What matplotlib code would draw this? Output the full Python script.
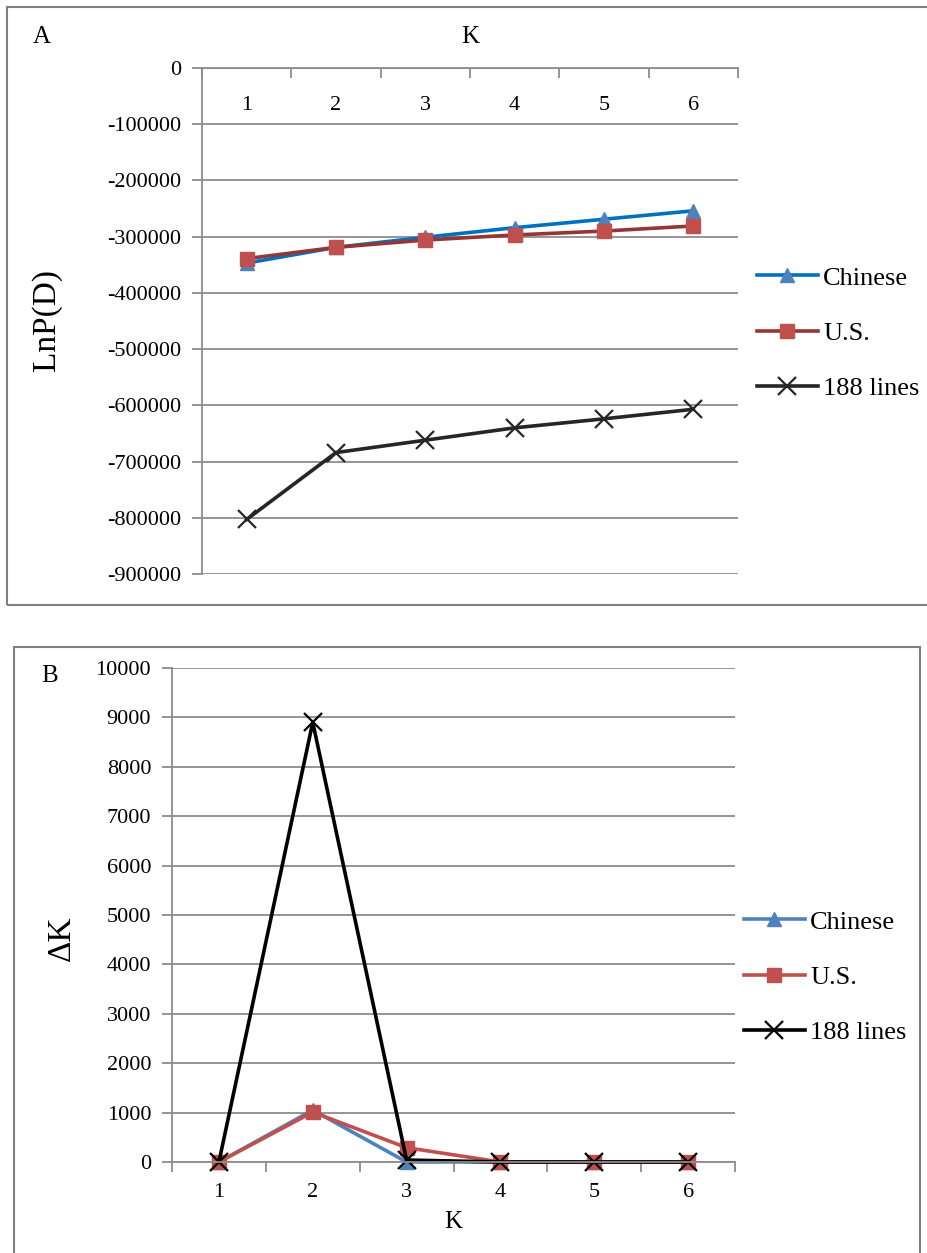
import matplotlib
matplotlib.use("Agg")
import matplotlib.pyplot as plt
from matplotlib.patches import Rectangle
from matplotlib.ticker import FixedLocator

plt.rcParams['font.family'] = ['Liberation Serif', 'DejaVu Serif']

K = [1, 2, 3, 4, 5, 6]
k_labels = ['1', '2', '3', '4', '5', '6']
series_names = ['Chinese', 'U.S.', '188 lines']

lnp_chinese = [-347000, -319000, -301000, -284000, -269000, -254000]
lnp_us = [-339000, -319000, -306000, -297000, -290000, -281000]
lnp_188 = [-803000, -684000, -662000, -640000, -624000, -607000]

dk_chinese = [0, 1050, 0, 0, 0, 0]
dk_us = [0, 1010, 290, 0, 0, 0]
dk_188 = [0, 8900, 40, 0, 0, 0]

W, H = 928, 1253
fig = plt.figure(figsize=(W / 100, H / 100), dpi=100)

GRID = '#8c8c8c'
FS_TICK = 16
FS_LEG = 19
FS_TITLE = 18
FS_YLAB = 24
LW = 2.6

# panel borders
fig.patches.append(Rectangle((7 / W, 1 - 605 / H), (940 - 7) / W, (605 - 7) / H,
                             transform=fig.transFigure, fill=False,
                             edgecolor='#808080', lw=1.5))
fig.patches.append(Rectangle((14 / W, 1 - 1260 / H), (920 - 14) / W, (1260 - 647) / H,
                             transform=fig.transFigure, fill=False,
                             edgecolor='#808080', lw=1.5))

styles = [
    dict(color='#0070C0', marker='^', mfc='#4F81BD', mec='#4F81BD', ms=10),
    dict(color='#943634', marker='s', mfc='#C0504D', mec='#C0504D', ms=10),
    dict(color='#262626', marker='x', mfc='#262626', mec='#262626', ms=13, mew=1.6),
]
stylesB = [
    dict(color='#4F81BD', marker='^', mfc='#4F81BD', mec='#4F81BD', ms=10),
    dict(color='#C0504D', marker='s', mfc='#C0504D', mec='#C0504D', ms=10),
    dict(color='#000000', marker='x', mfc='#000000', mec='#000000', ms=13, mew=1.6),
]

# ---------------- Panel A ----------------
axA = fig.add_axes([202 / W, 1 - 574 / H, (738 - 202) / W, (574 - 68) / H])
for vals, name, st in zip([lnp_chinese, lnp_us, lnp_188], series_names, styles):
    axA.plot(K, vals, lw=LW, label=name, **st)
axA.set_xlim(0.5, 6.5)
axA.set_ylim(-900000, 0)
yticksA = list(range(-900000, 1, 100000))
axA.set_yticks(yticksA)
axA.set_yticklabels([str(v) for v in yticksA])
axA.yaxis.grid(True, color=GRID, lw=1.3)
axA.set_axisbelow(True)
for s in ['right', 'bottom']:
    axA.spines[s].set_visible(False)
for s in ['left', 'top']:
    axA.spines[s].set_color(GRID)
    axA.spines[s].set_linewidth(1.3)
axA.xaxis.tick_top()
axA.set_xticks(K)
axA.set_xticklabels(k_labels)
axA.xaxis.set_minor_locator(FixedLocator([0.5 + i for i in range(7)]))
axA.tick_params(axis='x', which='major', length=0, pad=-34, labelsize=FS_TICK)
axA.tick_params(axis='x', which='minor', direction='in', length=7, color=GRID, width=1.3)
axA.tick_params(axis='y', direction='out', length=7, color=GRID, width=1.3,
                labelsize=FS_TICK, pad=8)
axA.text(0.5, 1 + 31 / 506, 'K', transform=axA.transAxes, ha='center', va='center',
         fontsize=FS_TITLE)
fig.text(42 / W, 1 - 37 / H, 'A', ha='center', va='center', fontsize=FS_TITLE)
fig.text(47 / W, 1 - 320 / H, 'LnP(D)', ha='center', va='center', rotation=90,
         fontsize=FS_YLAB)
axA.legend(loc='center left', bbox_to_anchor=(757 / W, 1 - 333 / H),
           bbox_transform=fig.transFigure, frameon=False, fontsize=FS_LEG,
           handlelength=2.3, handletextpad=0.2, labelspacing=1.2, borderpad=0,
           borderaxespad=0)

# ---------------- Panel B ----------------
axB = fig.add_axes([172 / W, 1 - 1162 / H, (735 - 172) / W, (1162 - 668) / H])
for vals, name, st in zip([dk_chinese, dk_us, dk_188], series_names, stylesB):
    axB.plot(K, vals, lw=LW, label=name, clip_on=False, **st)
axB.set_xlim(0.5, 6.5)
axB.set_ylim(0, 10000)
axB.set_yticks(range(0, 10001, 1000))
axB.yaxis.grid(True, color=GRID, lw=1.3)
axB.set_axisbelow(True)
for s in ['right', 'top']:
    axB.spines[s].set_visible(False)
for s in ['left', 'bottom']:
    axB.spines[s].set_color(GRID)
    axB.spines[s].set_linewidth(1.3)
axB.set_xticks(K)
axB.set_xticklabels(k_labels)
axB.xaxis.set_minor_locator(FixedLocator([0.5 + i for i in range(7)]))
axB.tick_params(axis='x', which='major', length=0, pad=15, labelsize=FS_TICK)
axB.tick_params(axis='x', which='minor', direction='out', length=7, color=GRID, width=1.3)
axB.tick_params(axis='y', direction='out', length=7, color=GRID, width=1.3,
                labelsize=FS_TICK, pad=8)
axB.text(0.5, -60 / 494, 'K', transform=axB.transAxes, ha='center', va='center',
         fontsize=FS_TITLE)
fig.text(50 / W, 1 - 676 / H, 'B', ha='center', va='center', fontsize=FS_TITLE)
fig.text(62 / W, 1 - 938 / H, 'ΔK', ha='center', va='center', rotation=90,
         fontsize=FS_YLAB)
axB.legend(loc='center left', bbox_to_anchor=(744 / W, 1 - 977 / H),
           bbox_transform=fig.transFigure, frameon=False, fontsize=FS_LEG,
           handlelength=2.3, handletextpad=0.2, labelspacing=1.2, borderpad=0,
           borderaxespad=0)

fig.savefig('out.png', dpi=100)
